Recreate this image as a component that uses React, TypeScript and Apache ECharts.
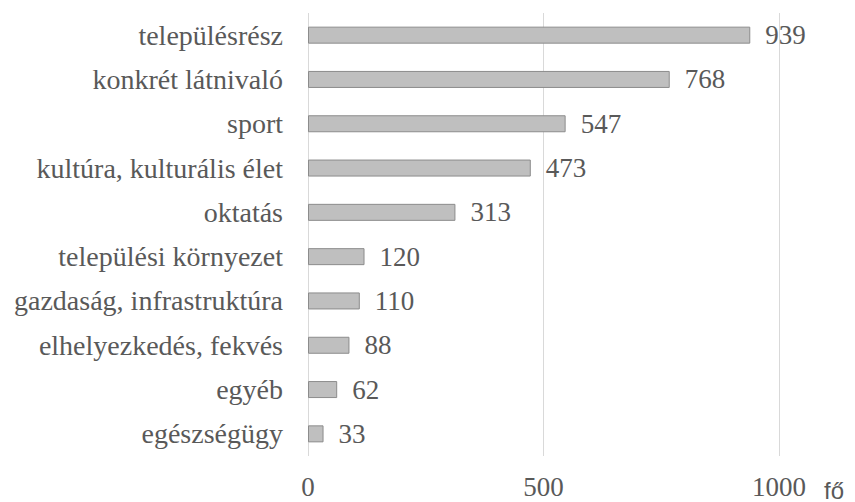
import React, { useEffect, useRef } from "react";
import * as echarts from "echarts";

const categories = [
  "településrész",
  "konkrét látnivaló",
  "sport",
  "kultúra, kulturális élet",
  "oktatás",
  "települési környezet",
  "gazdaság, infrastruktúra",
  "elhelyezkedés, fekvés",
  "egyéb",
  "egészségügy",
];
const values = [939, 768, 547, 473, 313, 120, 110, 88, 62, 33];
const axisName = "fő";

export default function App() {
  const ref = useRef<HTMLDivElement>(null);
  useEffect(() => {
    if (!ref.current) return;
    const chart = echarts.init(ref.current, undefined, { renderer: "svg" });
    const serif = "Times New Roman";
    const textColor = "#595959";
    chart.setOption({
      animation: false,
      backgroundColor: "#ffffff",
      textStyle: { fontFamily: serif },
      grid: { left: 308, top: 13, width: 471, height: 445, containLabel: false },
      xAxis: {
        type: "value",
        min: 0,
        max: 1000,
        interval: 500,
        name: axisName,
        nameLocation: "end",
        nameGap: 45,
        nameTextStyle: {
          fontFamily: "Liberation Sans",
          fontSize: 24,
          color: textColor,
          align: "left",
          verticalAlign: "top",
          padding: [22, 0, 0, 0],
        },
        axisLine: { show: false },
        axisTick: { show: false },
        splitLine: { show: true, lineStyle: { color: "#d9d9d9", width: 1 } },
        axisLabel: {
          fontFamily: serif,
          fontSize: 27,
          color: textColor,
          margin: 17,
          formatter: (v: number) => String(v),
        },
      },
      yAxis: {
        type: "category",
        data: categories,
        inverse: true,
        axisLine: { show: false },
        axisTick: { show: false },
        axisLabel: {
          fontFamily: serif,
          fontSize: 28,
          color: textColor,
          margin: 25,
        },
      },
      series: [
        {
          type: "bar",
          data: values,
          barWidth: 17,
          itemStyle: { color: "#bfbfbf", borderColor: "#8c8c8c", borderWidth: 1 },
          label: {
            show: true,
            position: "right",
            distance: 15,
            fontFamily: serif,
            fontSize: 27,
            color: textColor,
          },
        },
      ],
    });
    return () => chart.dispose();
  }, []);
  return (
    <div
      ref={ref}
      style={{ position: "fixed", left: 0, top: 0, width: 855, height: 502 }}
    />
  );
}
